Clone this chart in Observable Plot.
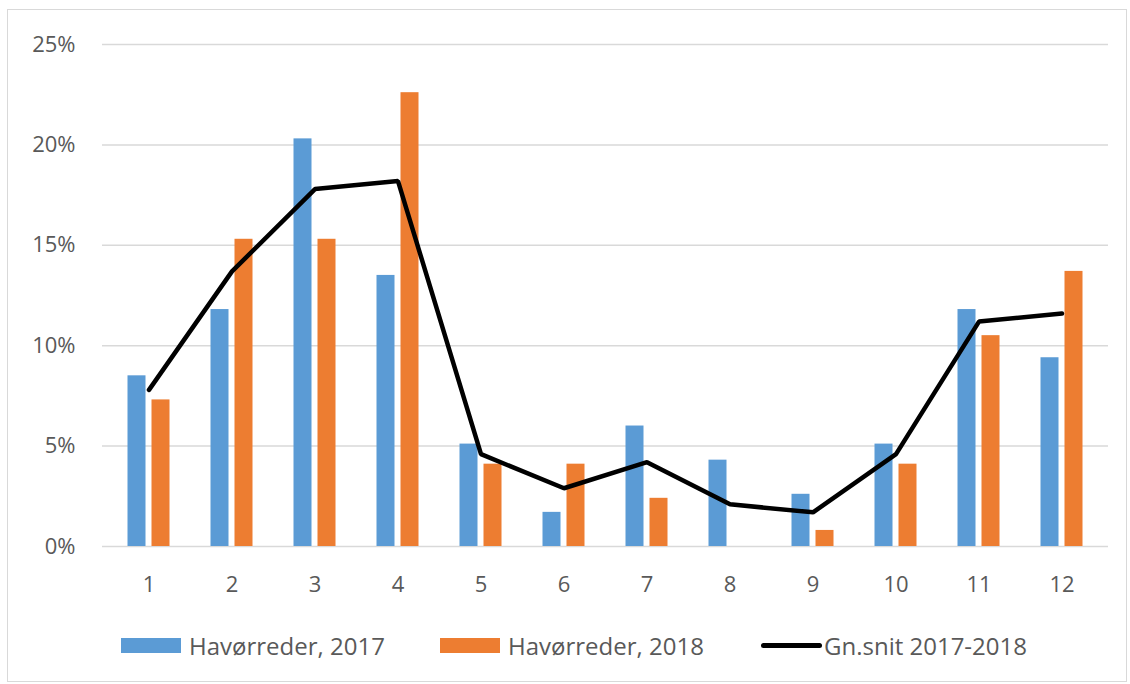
<!DOCTYPE html>
<html>
<head>
<meta charset="utf-8">
<script src="https://cdn.jsdelivr.net/npm/d3@7"></script>
<script src="https://cdn.jsdelivr.net/npm/@observablehq/plot@0.6"></script>
<style>
  html, body { margin: 0; padding: 0; background: #fff; }
  #page { position: relative; width: 1130px; height: 684px; overflow: hidden; font-family: "Open Sans", sans-serif; }
  #frame { position: absolute; left: 7px; top: 9px; width: 1120px; height: 673px; border: 1px solid #d9d9d9; box-sizing: border-box; }
  #chart { position: absolute; left: 0; top: 0; }
  .leg { position: absolute; top: 630px; height: 30px; display: flex; align-items: center; font-size: 24px; color: #595959; white-space: nowrap; }
  .sw { display: inline-block; width: 60px; height: 15px; margin-right: 8px; }
  .ln { display: inline-block; width: 61px; height: 5px; background: #000; border-radius: 3px; margin-right: 2px; }
</style>
</head>
<body>
<div id="page">
  <div id="frame"></div>
  <div id="chart"></div>
  <div class="leg" style="left:121px"><span class="sw" style="background:#5B9BD5"></span><span id="l1"></span></div>
  <div class="leg" style="left:440px"><span class="sw" style="background:#ED7D31"></span><span id="l2"></span></div>
  <div class="leg" style="left:761px"><span class="ln"></span><span id="l3"></span></div>
</div>
<script>
const months = [1, 2, 3, 4, 5, 6, 7, 8, 9, 10, 11, 12];
const series2017 = [8.5, 11.8, 20.3, 13.5, 5.1, 1.7, 6.0, 4.3, 2.6, 5.1, 11.8, 9.4];
const series2018 = [7.3, 15.3, 15.3, 22.6, 4.1, 4.1, 2.4, 0, 0.8, 4.1, 10.5, 13.7];
const average = [7.8, 13.7, 17.8, 18.2, 4.6, 2.9, 4.2, 2.1, 1.7, 4.6, 11.2, 11.6];
const seriesNames = ["Havørreder, 2017", "Havørreder, 2018", "Gn.snit 2017-2018"];
const yTicks = [0, 5, 10, 15, 20, 25];

const d17 = months.map((m, i) => ({month: m, value: series2017[i]}));
const d18 = months.map((m, i) => ({month: m, value: series2018[i]}));
const dAvg = months.map((m, i) => ({month: m, value: average[i]}));

document.getElementById("l1").textContent = seriesNames[0];
document.getElementById("l2").textContent = seriesNames[1];
document.getElementById("l3").textContent = seriesNames[2];

const chart = Plot.plot({
  width: 1130,
  height: 610,
  marginLeft: 102,
  marginRight: 22,
  marginTop: 44,
  marginBottom: 64,
  style: {fontFamily: "Open Sans, sans-serif", fontSize: "22px", color: "#595959", background: "transparent"},
  x: {type: "band", domain: months, padding: 0, label: null},
  y: {domain: [0, 25], label: null},
  marks: [
    Plot.ruleY(yTicks, {stroke: "#d9d9d9", strokeWidth: 1.5}),
    Plot.axisY({ticks: yTicks, tickSize: 0, tickPadding: 27, tickFormat: d => d + "%", fill: "#595959", fontSize: 22}),
    Plot.axisX({tickSize: 0, tickPadding: 30, fill: "#595959", fontSize: 22}),
    Plot.barY(d17, {x: "month", y: "value", fill: "#5B9BD5", insetLeft: 20.5, insetRight: 44.5}),
    Plot.barY(d18, {x: "month", y: "value", fill: "#ED7D31", insetLeft: 44.5, insetRight: 20.5}),
    Plot.line(dAvg, {x: "month", y: "value", stroke: "#000", strokeWidth: 4.5, strokeLinejoin: "miter"})
  ]
});
document.getElementById("chart").appendChild(chart);
</script>
</body>
</html>
